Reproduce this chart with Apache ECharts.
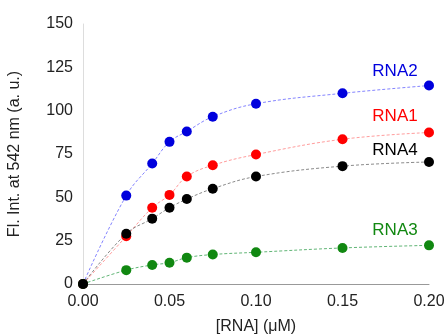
<!DOCTYPE html>
<html>
<head>
<meta charset="utf-8">
<script src="https://cdn.jsdelivr.net/npm/echarts@6/dist/echarts.min.js"></script>
<style>
  html, body { margin: 0; padding: 0; background: #fff; }
  #chart { width: 447px; height: 335px; }
</style>
</head>
<body>
<div id="chart"></div>
<script>
// concentrations in uM
const rnaConc = [0, 0.025, 0.04, 0.05, 0.06, 0.075, 0.10, 0.15, 0.20];
const rna2 = [0, 51, 69.5, 82, 88, 96.5, 104, 110, 114.5];
const rna1 = [0, 27.5, 44, 51.4, 62, 68.5, 74.7, 83.5, 87.4];
const rna4 = [0, 29, 37.7, 44, 49, 55, 62, 68, 70.4];
const rna3 = [0, 8, 11, 12.3, 15.2, 17, 18.3, 20.8, 22.3];
const xTicks = [0, 0.05, 0.10, 0.15, 0.20];

const fontFamily = "Liberation Sans, Arial, sans-serif";

function makeSeries(name, values, color, lineColor, labelDy) {
  const last = values.length - 1;
  return {
    name: name,
    type: "line",
    smooth: 0.4,
    symbol: "circle",
    symbolSize: 10,
    itemStyle: { color: color },
    lineStyle: { color: lineColor, width: 1, type: [3, 2] },
    data: rnaConc.map((x, i) => {
      const item = { value: [x, values[i]] };
      if (i === last) {
        item.label = {
          show: true,
          position: "inside",
          offset: [-34, labelDy],
          formatter: name,
          color: color,
          fontSize: 17,
          fontFamily: fontFamily,
        };
      }
      return item;
    }),
    z: 2,
  };
}

const chart = echarts.init(document.getElementById("chart"));
chart.setOption({
  animation: false,
  grid: { left: 83, right: 18, top: 24, bottom: 51, outerBoundsMode: "none", containLabel: false },
  xAxis: {
    type: "value",
    min: 0,
    max: 0.2,
    interval: 0.05,
    name: "[RNA] (μM)",
    nameLocation: "middle",
    nameGap: 35,
    nameTextStyle: { color: "#222", fontSize: 16, fontFamily: fontFamily },
    axisLine: { show: true, onZero: false, lineStyle: { color: "#999" } },
    axisTick: { show: false },
    splitLine: { show: false },
    axisLabel: {
      color: "#222",
      fontSize: 16,
      fontFamily: fontFamily,
      margin: 10,
      formatter: (v) => v.toFixed(2),
      customValues: xTicks,
    },
  },
  yAxis: {
    type: "value",
    min: 0,
    max: 150,
    interval: 25,
    name: "Fl. Int. at 542 nm (a. u.)",
    nameLocation: "middle",
    nameGap: 60,
    nameTextStyle: { color: "#222", fontSize: 16, fontFamily: fontFamily },
    axisLine: { show: true, lineStyle: { color: "#ddd" } },
    axisTick: { show: false },
    splitLine: { show: false },
    axisLabel: {
      color: "#222",
      fontSize: 16,
      fontFamily: fontFamily,
      margin: 10,
      verticalAlignMinLabel: "middle",
      verticalAlignMaxLabel: "middle",
    },
  },
  series: [
    makeSeries("RNA2", rna2, "#0000dd", "rgba(80,80,255,0.7)", -14),
    makeSeries("RNA1", rna1, "#ff0000", "rgba(255,90,90,0.6)", -16),
    makeSeries("RNA3", rna3, "#118811", "rgba(30,150,60,0.7)", -15),
    makeSeries("RNA4", rna4, "#000000", "rgba(60,60,60,0.6)", -12),
  ],
});
</script>
</body>
</html>
